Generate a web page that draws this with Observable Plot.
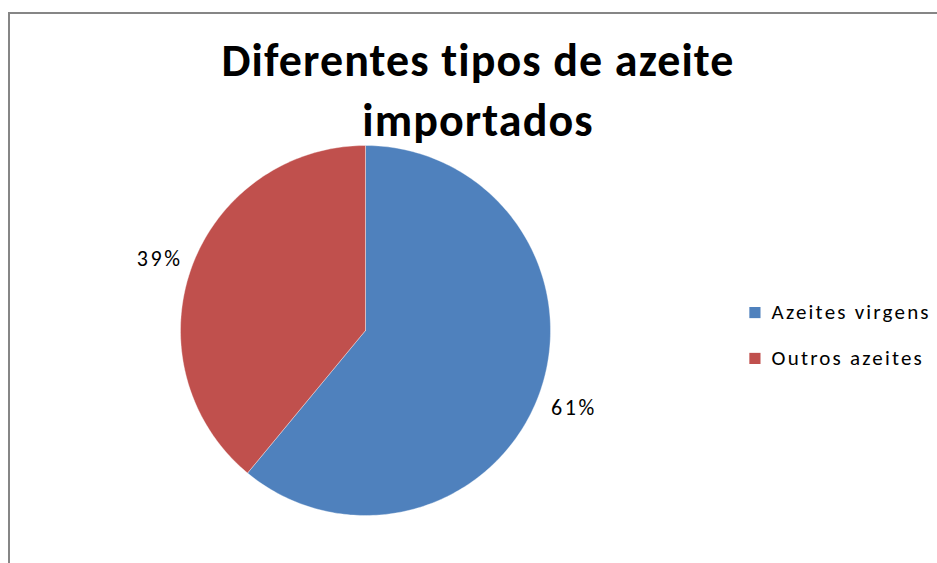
<!DOCTYPE html>
<html><head><meta charset="utf-8">
<script src="https://cdn.jsdelivr.net/npm/d3@7"></script>
<script src="https://cdn.jsdelivr.net/npm/@observablehq/plot@0.6"></script>
<style>
body{margin:0;background:#fff;}
#wrap{position:relative;width:937px;height:563px;overflow:hidden;}
#frame{position:absolute;left:8px;top:12px;width:960px;height:600px;border-left:2px solid #868686;border-top:2px solid #868686;pointer-events:none;}
#chart{position:absolute;left:0;top:0;}
</style></head><body><div id="wrap"><div id="chart"></div><div id="frame"></div></div>
<script>
const categories = ["Azeites virgens", "Outros azeites"];
const values = [61, 39];
const colors = ["#4F81BD", "#C0504D"];
const valueLabels = ["61%", "39%"];
const titleLines = ["Diferentes tipos de azeite", "importados"];

const arcs = d3.pie().sort(null).value(d => d.value)(categories.map((c, i) => ({cat: c, value: values[i], label: valueLabels[i]})));

// slice outlines (geometry of each arc, derived from the pie angles)
const slicePts = [];
for (const a of arcs) {
  slicePts.push({cat: a.data.cat, x: 0, y: 0});
  const n = Math.max(2, Math.ceil((a.endAngle - a.startAngle) / (Math.PI / 180)));
  for (let k = 0; k <= n; k++) {
    const t = a.startAngle + (a.endAngle - a.startAngle) * k / n;
    slicePts.push({cat: a.data.cat, x: Math.sin(t), y: Math.cos(t)});
  }
  slicePts.push({cat: a.data.cat, x: 0, y: 0});
}
const labelPts = arcs.map(a => {
  const m = (a.startAngle + a.endAngle) / 2;
  return {label: a.data.label, x: 1.19 * Math.sin(m), y: 1.19 * Math.cos(m) - 0.015};
});
const legendRows = categories.map((c, i) => ({cat: c, row: i}));

const chart = Plot.plot({
  width: 937, height: 563,
  marginLeft: 180, marginRight: 387, marginTop: 145, marginBottom: 48,
  x: {domain: [-1, 1], axis: null},
  y: {domain: [-1, 1], axis: null},
  color: {domain: categories, range: colors},
  style: {fontFamily: "Carlito, Lato, sans-serif", background: "white", overflow: "visible"},
  marks: [
    Plot.line(slicePts, {x: "x", y: "y", z: "cat", fill: "cat", stroke: "white", strokeWidth: 0.6, strokeOpacity: 0.6}),
    Plot.text(labelPts, {x: "x", y: "y", text: "label", fontSize: 22, dx: 1.2, fill: "black"}),
    Plot.dot(legendRows, {x: () => 2.105, y: d => 0.097 - d.row * 0.248, symbol: "square", r: 6.3, fill: "cat", stroke: null}),
    Plot.text(legendRows, {x: () => 2.195, y: d => 0.097 - d.row * 0.248, text: "cat", textAnchor: "start", fontSize: 21, fill: "black"}),
    Plot.text(titleLines, {x: () => 0.605, y: (d, i) => [1.373, 1.054][i], text: d => d, lineAnchor: "bottom", dx: 0.6, fontSize: 46, fontWeight: "bold", fill: "black"})
  ]
});
document.getElementById("chart").appendChild(chart);
// letter spacing to match the wide glyph spacing of the original rendering
const texts = chart.querySelectorAll("g[aria-label='text']");
texts[0].setAttribute("letter-spacing", "2.6");
texts[1].setAttribute("letter-spacing", "2.2");
texts[2].setAttribute("letter-spacing", "1.1");
</script></body></html>
